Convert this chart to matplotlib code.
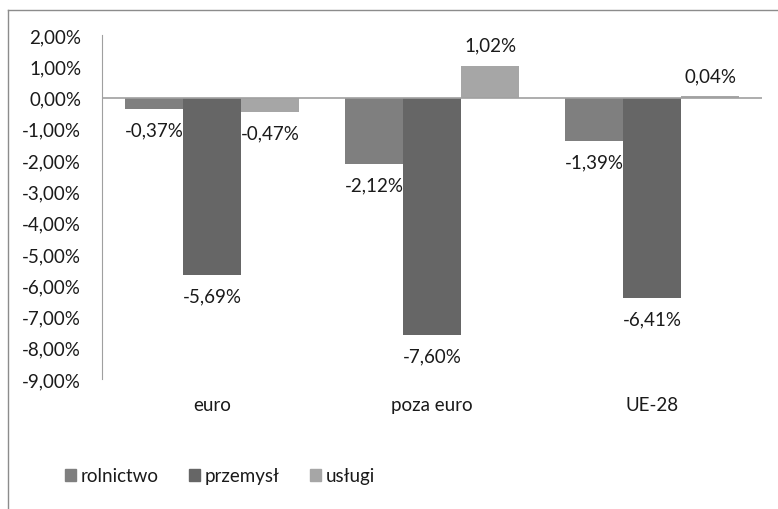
import matplotlib
matplotlib.use('Agg')
import matplotlib.pyplot as plt
from matplotlib.patches import Patch
from matplotlib.lines import Line2D
from matplotlib.ticker import FuncFormatter, MultipleLocator
import numpy as np

# data (percent)
categories = ['euro', 'poza euro', 'UE-28']
series_names = ['rolnictwo', 'przemysł', 'usługi']
rolnictwo = [-0.37, -2.12, -1.39]
przemysl = [-5.69, -7.60, -6.41]
uslugi = [-0.47, 1.02, 0.04]
colors = ['#7f7f7f', '#666666', '#a6a6a6']

plt.rcParams['font.family'] = ['Lato', 'DejaVu Sans']
txt = '#1a1a1a'
fs = 13.5


def pl_pct(v):
    return '{:.2f}%'.format(v).replace('.', ',')


fig = plt.figure(figsize=(7.78, 5.10), dpi=100)
ax = fig.add_axes([102 / 778, 1 - 380 / 510, 660 / 778, 344 / 510])

x = np.arange(len(categories))
width = 0.264
for i, (vals, name) in enumerate(zip([rolnictwo, przemysl, uslugi], series_names)):
    pos = x + (i - 1) * width
    ax.bar(pos, vals, width, color=colors[i], label=name, zorder=2)
    for px, v in zip(pos, vals):
        off = 15 if v >= 0 else -15
        ax.annotate(pl_pct(v), (px, v), xytext=(0, off), textcoords='offset points',
                    ha='center', va='center', fontsize=fs, color=txt)

ax.set_xlim(-0.5, 2.5)
ax.set_ylim(-9, 2)
ax.yaxis.set_major_locator(MultipleLocator(1))
ax.yaxis.set_major_formatter(FuncFormatter(lambda v, p: pl_pct(v)))
ax.set_xticks(x)
ax.set_xticklabels(categories)
ax.tick_params(axis='y', length=0, pad=15, labelsize=fs, labelcolor=txt)
ax.tick_params(axis='x', length=0, pad=12, labelsize=fs, labelcolor=txt)

for s in ['top', 'right', 'bottom']:
    ax.spines[s].set_visible(False)
ax.spines['left'].set_color('#a0a0a0')
ax.axhline(0, color='#a0a0a0', lw=1.2, zorder=3)

# outer chart border (top and left visible)
fig.add_artist(Line2D([8 / 778, 8 / 778], [0, 1 - 11 / 510], transform=fig.transFigure,
                      color='#8c8c8c', lw=1))
fig.add_artist(Line2D([8 / 778, 1], [1 - 11 / 510, 1 - 11 / 510], transform=fig.transFigure,
                      color='#8c8c8c', lw=1))

handles = [Patch(color=c) for c in colors]
fig.legend(handles, series_names, loc='center left', bbox_to_anchor=(48 / 778, 1 - 477 / 510),
           ncol=3, frameon=False, fontsize=fs, handlelength=0.6, handleheight=0.6,
           handletextpad=0.25, columnspacing=1.6, labelcolor=txt)

fig.savefig('out.png', dpi=100)
